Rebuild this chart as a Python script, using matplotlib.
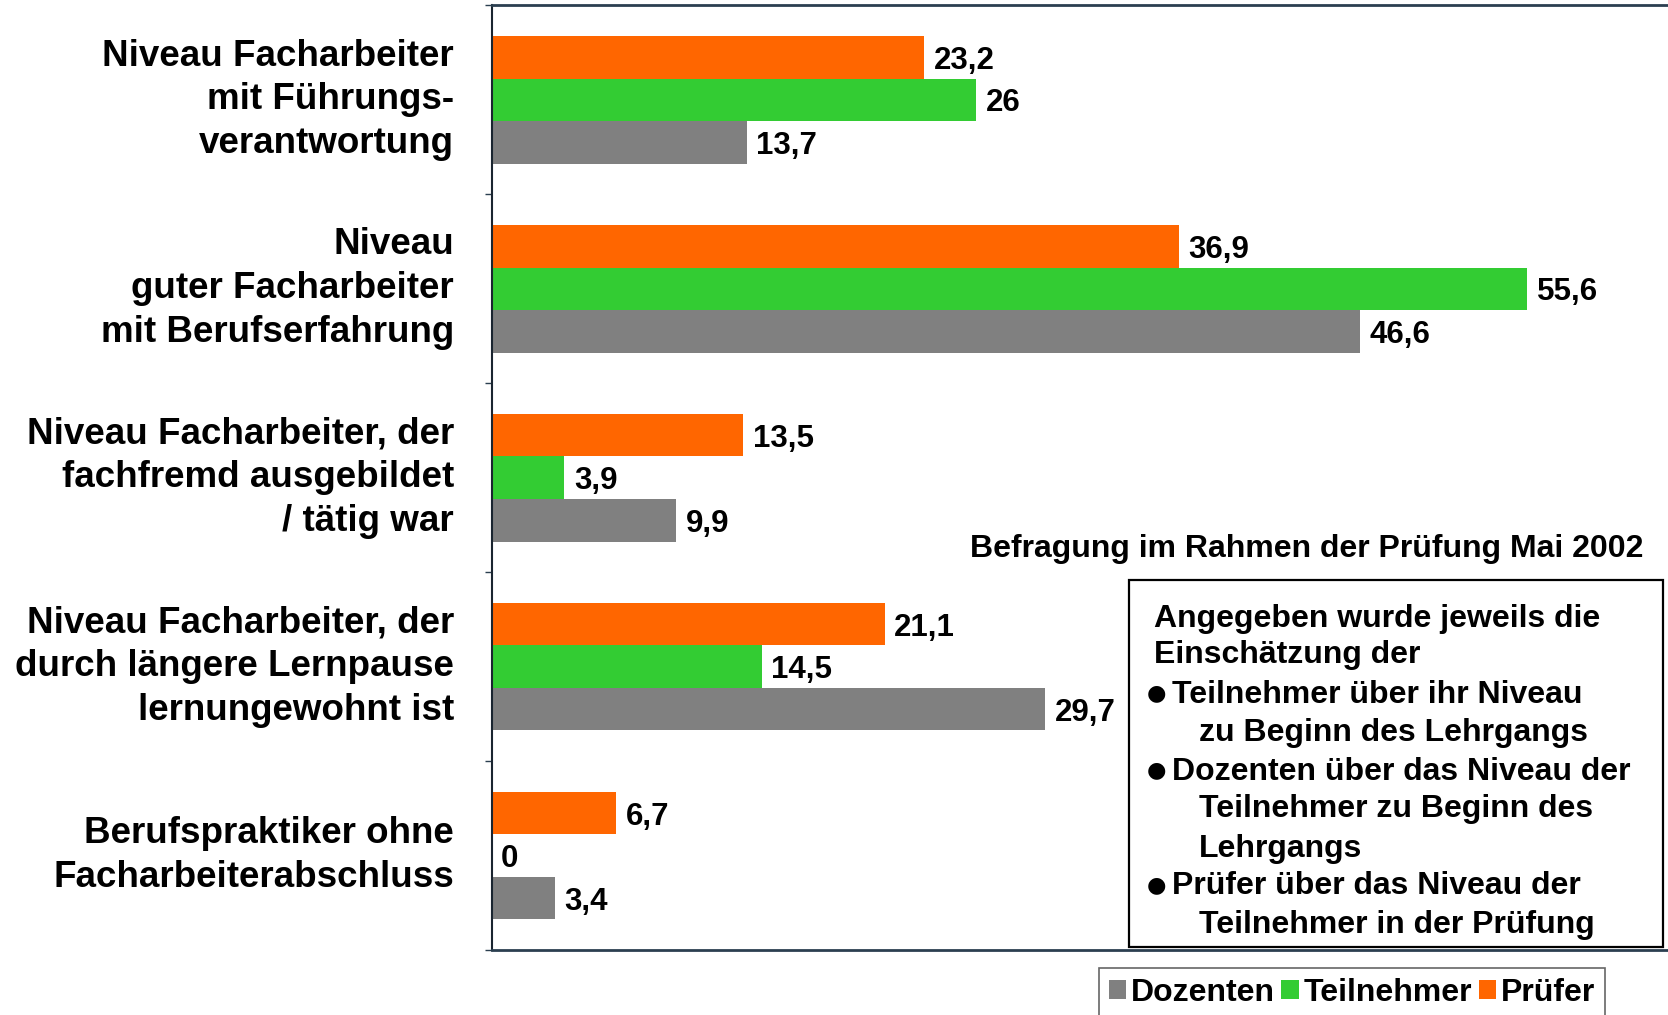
import matplotlib
matplotlib.use("Agg")
import matplotlib.pyplot as plt
from matplotlib.patches import Rectangle
import numpy as np

plt.rcParams['font.family'] = ['Liberation Sans', 'DejaVu Sans']
plt.rcParams['font.weight'] = 'bold'

categories = [
    "Niveau Facharbeiter\nmit Führungs-\nverantwortung",
    "Niveau\nguter Facharbeiter\nmit Berufserfahrung",
    "Niveau Facharbeiter, der\nfachfremd ausgebildet\n/ tätig war",
    "Niveau Facharbeiter, der\ndurch längere Lernpause\nlernungewohnt ist",
    "Berufspraktiker ohne\nFacharbeiterabschluss",
]
pruefer = [23.2, 36.9, 13.5, 21.1, 6.7]
teilnehmer = [26, 55.6, 3.9, 14.5, 0]
dozenten = [13.7, 46.6, 9.9, 29.7, 3.4]

title_text = "Befragung im Rahmen der Prüfung Mai 2002"
box_lines = [
    ("", "Angegeben wurde jeweils die"),
    ("", "Einschätzung der"),
    ("●", "Teilnehmer über ihr Niveau"),
    ("", "zu Beginn des Lehrgangs"),
    ("●", "Dozenten über das Niveau der"),
    ("", "Teilnehmer zu Beginn des"),
    ("", "Lehrgangs"),
    ("●", "Prüfer über das Niveau der"),
    ("", "Teilnehmer in der Prüfung"),
]

c_orange = "#FF6600"
c_green = "#33CC33"
c_gray = "#808080"

W, H = 1668, 1015
fig = plt.figure(figsize=(W / 100, H / 100), dpi=100)
ax = fig.add_axes([491.5 / W, 1 - 950 / H, 1 - 491.5 / W, (950 - 5.5) / H])

y = np.arange(len(categories))
h = 0.225
b_pr = ax.barh(y - h, pruefer, height=h, color=c_orange, label="Prüfer")
b_te = ax.barh(y, teilnehmer, height=h, color=c_green, label="Teilnehmer")
b_do = ax.barh(y + h, dozenten, height=h, color=c_gray, label="Dozenten")

def fmt(v):
    return ("%g" % v).replace(".", ",")

for bars, vals in [(b_pr, pruefer), (b_te, teilnehmer), (b_do, dozenten)]:
    for rect, v in zip(bars, vals):
        ax.annotate(fmt(v), xy=(v, rect.get_y() + rect.get_height() / 2),
                    xytext=(7, 0), textcoords="offset points",
                    ha="left", va="center_baseline", fontsize=22.5, fontweight="bold")

ax.set_xlim(0, 63.15)
ax.set_ylim(len(categories) - 0.5, -0.5)
ax.set_xticks([])
ax.set_yticks(y)
ax.set_yticklabels(categories, fontsize=26.5, fontweight="bold", ha="right",
                   multialignment="right", linespacing=1.33, va="center")
ax.tick_params(axis="y", which="major", length=0, pad=27)
ax.set_yticks(np.arange(-0.5, len(categories) + 0.5, 1), minor=True)
ax.tick_params(axis="y", which="minor", length=5, width=1, color="#2B3F50", direction="out")

ax.spines["right"].set_visible(False)
ax.spines["top"].set_color("#2B3F50")
ax.spines["top"].set_linewidth(2)
ax.spines["bottom"].set_color("#2B3F50")
ax.spines["bottom"].set_linewidth(2)
ax.spines["left"].set_color("#1A2530")
ax.spines["left"].set_linewidth(1.5)

# Title annotation
fig.text(1643.6 / W, 1 - 545 / H, title_text, ha="right", va="center_baseline",
         fontsize=23, fontweight="bold")

# Text box
box = Rectangle((1128.7 / W, 1 - 946.8 / H), (1662.7 - 1128.7) / W, (946.8 - 579.8) / H,
                transform=fig.transFigure, fill=False, edgecolor="black", linewidth=1.6)
fig.patches.append(box)
line_y = [615, 652, 691.5, 730, 768, 806, 845, 883, 921]
for i, ((bullet, txt), yy) in enumerate(zip(box_lines, line_y)):
    if bullet:
        fig.text(1147 / W, 1 - yy / H, bullet, ha="left", va="center_baseline", fontsize=16,
                 family=['DejaVu Sans'])
        x0 = 1172
    elif i < 2:
        x0 = 1154
    else:
        x0 = 1199
    fig.text(x0 / W, 1 - yy / H, txt, ha="left", va="center_baseline", fontsize=23,
             fontweight="bold")

# Legend
leg = fig.legend(handles=[b_do, b_te, b_pr], labels=["Dozenten", "Teilnehmer", "Prüfer"],
                 loc="upper left", bbox_to_anchor=(1099 / W, 1 - 968 / H),
                 bbox_transform=fig.transFigure, ncol=3,
                 prop={"weight": "bold", "size": 23},
                 handlelength=0.55, handleheight=0.55, handletextpad=0.15,
                 columnspacing=0.2, borderpad=0.3, borderaxespad=0,
                 fancybox=False, frameon=True)
leg.get_frame().set_edgecolor("#404040")
leg.get_frame().set_linewidth(1.2)

fig.savefig("out.png", dpi=100)
